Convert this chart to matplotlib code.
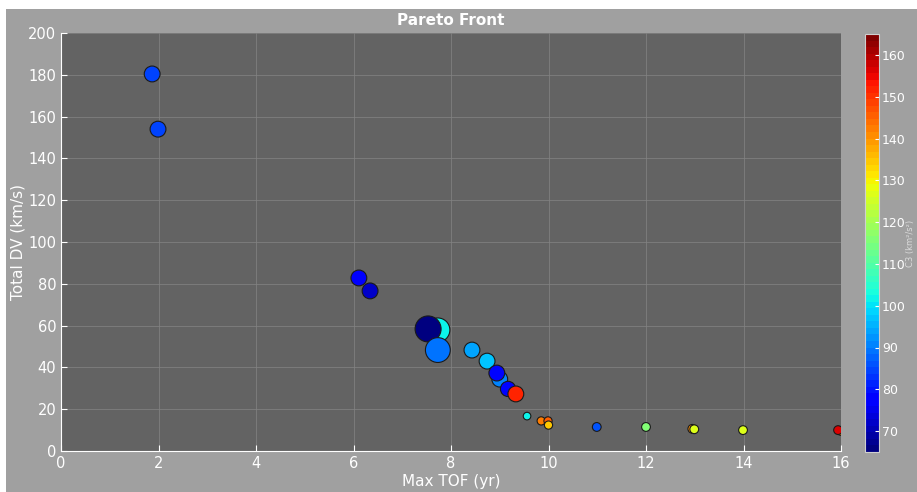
import matplotlib
matplotlib.use("Agg")
import matplotlib.pyplot as plt
from matplotlib.patches import Rectangle

# values
tof = [1.87, 1.99, 6.11, 6.34, 7.73, 7.53, 7.73, 8.43, 8.74, 9.00, 8.94, 9.17, 9.33,
       9.56, 9.85, 9.99, 10.0, 10.99, 12.0, 12.95, 12.99, 13.99, 16.0, 15.94]
dv = [180.4, 154.0, 82.8, 76.6, 57.9, 58.4, 48.3, 48.3, 43.0, 34.4, 37.3, 29.7, 27.3,
      16.7, 14.4, 14.4, 12.4, 11.5, 11.5, 10.6, 10.4, 10.0, 9.6, 10.0]
c3 = [85, 84, 77, 72, 101, 65, 89, 94, 97, 90, 79, 78, 151,
      102, 143, 145, 134, 86, 115, 140, 127, 126, 140, 156]
sizes = [130, 130, 130, 130, 300, 350, 320, 130, 130, 130, 130, 120, 130,
         30, 35, 35, 35, 40, 40, 40, 40, 40, 40, 40]

fig = plt.figure(figsize=(9.17, 4.92), dpi=100)
fig.patch.set_facecolor("white")
fig.patches.append(Rectangle((6/917, 0), 1, 1 - 9/492, transform=fig.transFigure,
                             facecolor="#a0a0a0", edgecolor="none", zorder=-10))

ax = fig.add_axes([61/917, 1 - 451/492, 780/917, 418/492])
ax.set_facecolor("#636363")
sc = ax.scatter(tof, dv, c=c3, s=sizes, cmap=plt.get_cmap("jet", 64), vmin=65, vmax=165,
                edgecolors="#1a1a1a", linewidths=0.8, zorder=3)
ax.set_xlim(0, 16)
ax.set_ylim(0, 200)
ax.set_xticks(range(0, 17, 2))
ax.set_yticks(range(0, 201, 20))
ax.grid(True, color="#828282", linewidth=0.7, alpha=0.8)
ax.set_axisbelow(True)
for s in ["top", "right"]:
    ax.spines[s].set_visible(False)
for s in ["left", "bottom"]:
    ax.spines[s].set_color("white")
ax.tick_params(colors="white", direction="in", length=4, labelsize=10.5)
ax.set_xlabel("Max TOF (yr)", color="white", fontsize=11, labelpad=2)
ax.set_ylabel("Total DV (km/s)", color="white", fontsize=11, labelpad=2)
ax.set_title("Pareto Front", color="white", fontsize=11, fontweight="bold", pad=6)

cax = fig.add_axes([865/917, 1 - 452/492, 14/917, 418/492])
cb = fig.colorbar(sc, cax=cax, ticks=range(70, 161, 10))
cb.outline.set_edgecolor("#d0d0d0")
cax.tick_params(colors="white", labelsize=9, direction="in", length=3, pad=2)
cb.set_label("C3 (km²/s²)", color="#dcdcdc", fontsize=6)
cax.yaxis.set_label_coords(2.95, 0.5)

fig.savefig("out.png", dpi=100)
